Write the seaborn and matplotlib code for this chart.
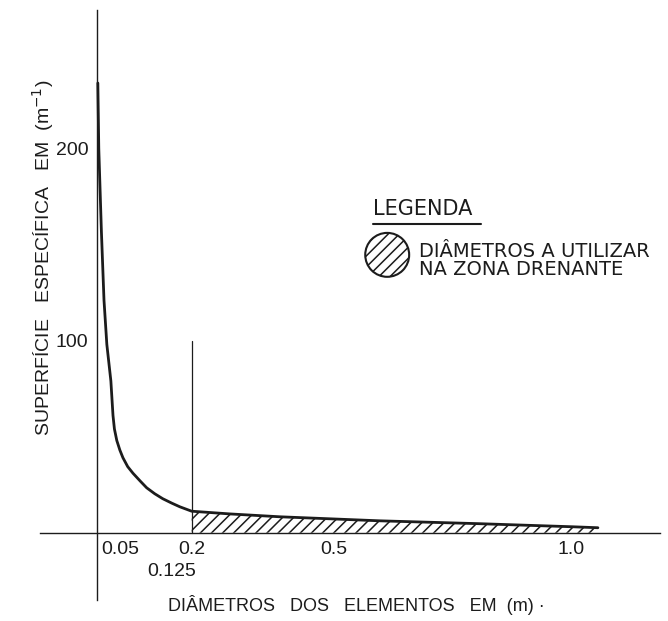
import matplotlib
matplotlib.use("Agg")
import matplotlib.pyplot as plt
import numpy as np
import pandas as pd
import seaborn as sns

sns.set_theme(style="white")
plt.rcParams["font.family"] = ["Liberation Sans", "DejaVu Sans"]
plt.rcParams["hatch.linewidth"] = 1.1

# curve: diameter (m) vs specific surface (m^-1)
diameters = [0.002, 0.004, 0.0095, 0.015, 0.021, 0.0295, 0.032, 0.034, 0.037,
             0.042, 0.0485, 0.055, 0.065, 0.076, 0.091, 0.105, 0.122, 0.139,
             0.158, 0.175, 0.200, 0.280, 0.386, 0.597, 0.808, 1.004, 1.057]
surface = [234, 200, 157, 121, 98, 79, 69, 61, 54,
           48, 43, 39, 34.4, 31, 27, 23.4, 20.3, 17.7,
           15.4, 13.5, 11.2, 9.8, 8.3, 6.2, 4.7, 3.1, 2.6]

x_ticks = [0.05, 0.2, 0.5, 1.0]
x_tick_labels = ["0.05", "0.2", "0.5", "1.0"]
offset_tick = 0.125
y_ticks = [100, 200]
drain_start = 0.2
drain_line_top = 100

INK = "#1c1c1c"

df = pd.DataFrame({"d": diameters, "s": surface})

fig = plt.figure(figsize=(6.68, 6.21), dpi=100)
ax = fig.add_axes([40 / 668, 21 / 621, 620 / 668, 590 / 621])

sns.lineplot(data=df, x="d", y="s", ax=ax, color=INK, linewidth=2.0, sort=False)

# hatched zone of usable diameters
zone = df[df["d"] >= drain_start]
ax.fill_between(zone["d"], 0, zone["s"], facecolor="white", edgecolor=INK,
                hatch="///", linewidth=0)
ax.plot([drain_start, drain_start], [0, drain_line_top], color=INK, linewidth=0.9)

ax.set_xlim(-0.12, 1.188)
ax.set_ylim(-35, 272)

for side in ["top", "right"]:
    ax.spines[side].set_visible(False)
for side in ["left", "bottom"]:
    ax.spines[side].set_position(("data", 0))
    ax.spines[side].set_color(INK)
    ax.spines[side].set_linewidth(1.0)

ax.set_xticks(x_ticks + [offset_tick])
ax.set_xticklabels(x_tick_labels + [""])
ax.set_yticks(y_ticks)
ax.set_yticklabels([str(v) for v in y_ticks])
ax.tick_params(axis="x", direction="in", length=5, width=0.9, color=INK,
               pad=6, labelsize=14, labelcolor=INK)
ax.tick_params(axis="y", direction="out", length=5, width=0.9, color=INK,
               pad=1, labelsize=14, labelcolor=INK)
ax.annotate(str(offset_tick), xy=(offset_tick, 0), xytext=(11, -22),
            textcoords="offset points", ha="center", va="top",
            fontsize=14, color=INK)

ax.set_xlabel("DIÂMETROS   DOS   ELEMENTOS   EM  (m) ·", fontsize=13, color=INK)
ax.xaxis.set_label_coords(0.51, 0.008)
ax.set_ylabel("SUPERFÍCIE   ESPECÍFICA   EM  (m$^{-1}$)", fontsize=14, color=INK)
ax.yaxis.set_label_coords(0.026, 0.58)

# legend drawn by hand like the original
ax.text(0.537, 0.645, "LEGENDA", transform=ax.transAxes, fontsize=15,
        color=INK, family="DejaVu Sans", ha="left", va="bottom")
ax.plot([0.537, 0.712], [0.638, 0.638], transform=ax.transAxes, color=INK,
        linewidth=1.5)
ax.scatter([0.56], [0.585], transform=ax.transAxes, s=1000, marker="o",
           facecolor="white", edgecolor=INK, linewidth=1.5, hatch="///")
ax.text(0.611, 0.591, "DIÂMETROS A UTILIZAR", transform=ax.transAxes,
        fontsize=14, color=INK, family="DejaVu Sans", ha="left", va="center")
ax.text(0.611, 0.561, "NA ZONA DRENANTE", transform=ax.transAxes,
        fontsize=14, color=INK, family="DejaVu Sans", ha="left", va="center")

fig.savefig("out.png", dpi=100, facecolor="white")
